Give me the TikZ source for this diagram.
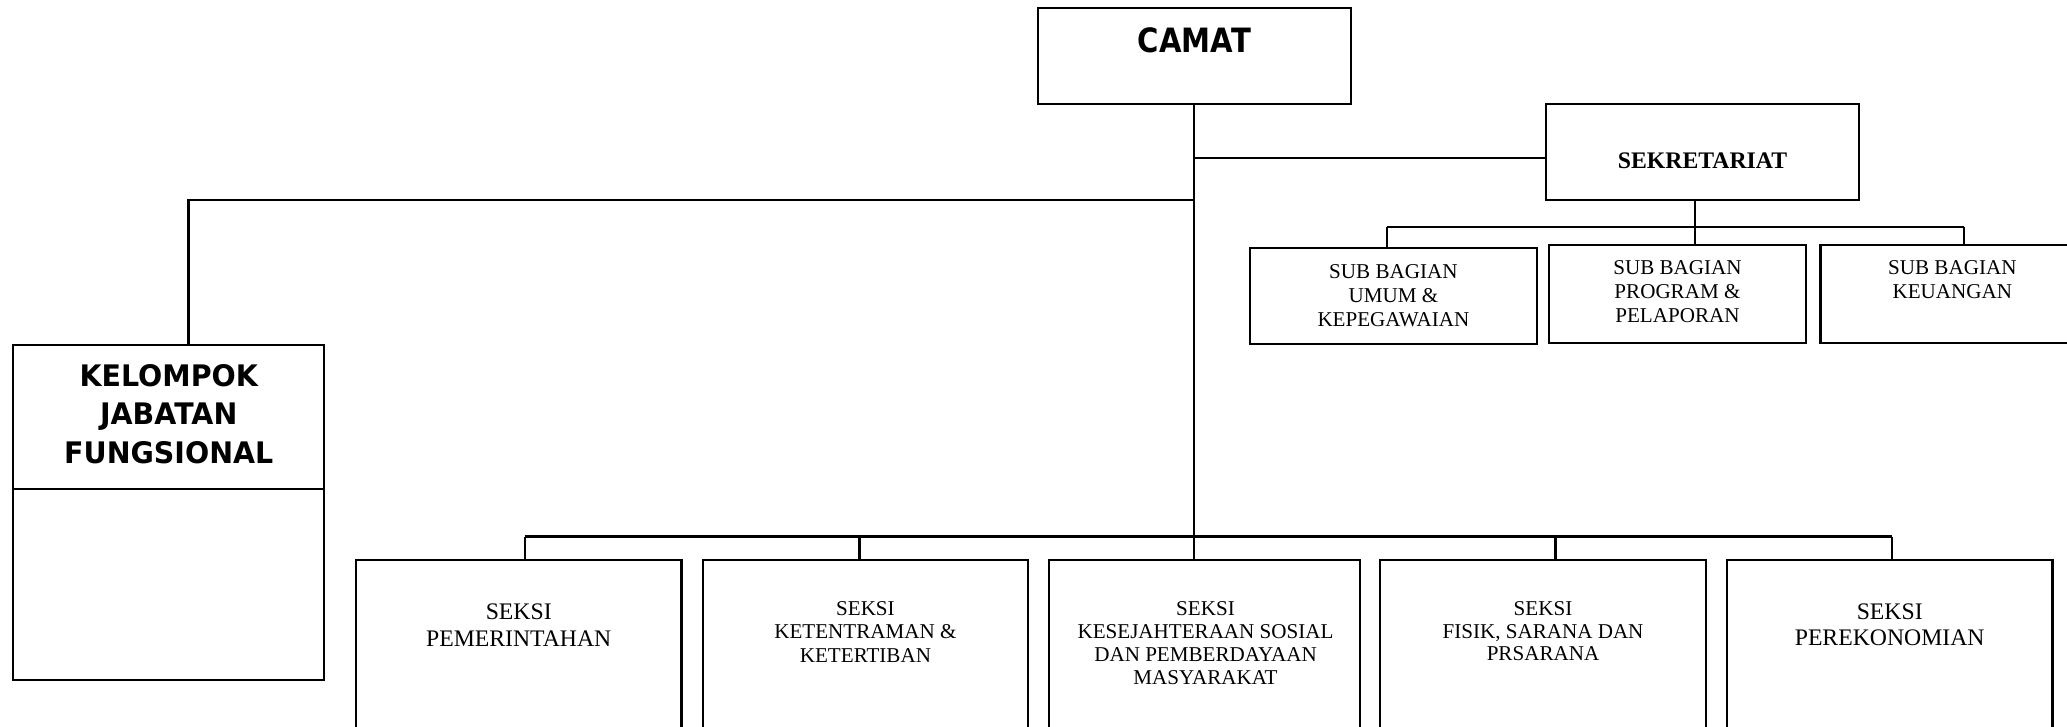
\documentclass[tikz,border=0pt]{standalone}
\usepackage{fontspec}
\setmainfont{Liberation Serif}
\newfontfamily\camatfont[FakeStretch=0.87]{DejaVu Sans}
\newfontfamily\kelfont[FakeStretch=0.96]{DejaVu Sans}
\newcommand{\mylines}[1]{\begin{tabular}[t]{@{}c@{}}#1\end{tabular}}
\begin{document}
\begin{tikzpicture}[x=0.5pt,y=-0.5pt,line width=0.8pt,
  box/.style 2 args={draw,rectangle,inner sep=0pt,outer sep=0pt,minimum width=#1*0.5pt,minimum height=#2*0.5pt},
  lbl/.style={anchor=base,inner sep=0pt,outer sep=0pt},
  small/.style={lbl,font=\fontsize{8}{9}\selectfont},
  mid/.style={lbl,font=\fontsize{9}{10.2}\selectfont}]
\useasboundingbox (0,0) rectangle (1568,551);
% boxes
\node[box={237}{73}] (camat) at (906,42.5) {};
\node[box={237}{73}] (sek) at (1291.5,115.5) {};
\node[box={236}{254}] (kel) at (128,389) {};
\node[box={218}{73}] (umum) at (1057,224.5) {};
\node[box={195}{74}] (prog) at (1272.5,223) {};
\node[box={199}{74}] (keu) at (1480.5,223) {};
\node[box={247}{140}] (s1) at (393.5,495) {};
\node[box={247}{140}] (s2) at (656.5,495) {};
\node[box={236}{140}] (s3) at (914,495) {};
\node[box={247}{140}] (s4) at (1170.5,495) {};
\node[box={247}{140}] (s5) at (1433.5,495) {};
% texts
\node[lbl,font=\camatfont\bfseries\fontsize{12.7}{14}\selectfont] (tcamat) at (906,40) {CAMAT};
\node[lbl,font=\bfseries\fontsize{9}{10}\selectfont] (tsek) at (1291.5,128) {SEKRETARIAT};
\node[lbl,font=\kelfont\bfseries\fontsize{11.25}{14.6}\selectfont] (tkel) at (128,293) {\mylines{KELOMPOK\\JABATAN\\FUNGSIONAL}};
\node[small,font=\fontsize{8}{9.1}\selectfont] (tumum) at (1057,211) {\mylines{SUB BAGIAN\\UMUM \&\\KEPEGAWAIAN}};
\node[small] (tprog) at (1272.5,208.6) {\mylines{SUB BAGIAN\\PROGRAM \&\\PELAPORAN}};
\node[small] (tkeu) at (1481,208.6) {\mylines{SUB BAGIAN\\KEUANGAN}};
\node[mid] (ts1) at (393.5,469.8) {\mylines{SEKSI\\PEMERINTAHAN}};
\node[small,font=\fontsize{8}{8.9}\selectfont] (ts2) at (656.5,466.6) {\mylines{SEKSI\\KETENTRAMAN \&\\KETERTIBAN}};
\node[small,font=\fontsize{8}{8.65}\selectfont] (ts3) at (914.5,467) {\mylines{SEKSI\\KESEJAHTERAAN SOSIAL\\DAN PEMBERDAYAAN\\MASYARAKAT}};
\node[small,font=\fontsize{8}{8.6}\selectfont] (ts4) at (1170.5,467) {\mylines{SEKSI\\FISIK, SARANA DAN\\PRSARANA}};
\node[mid,font=\fontsize{9}{9.8}\selectfont] (ts5) at (1433.5,469.8) {\mylines{SEKSI\\PEREKONOMIAN}};
% helper coordinates
\coordinate (busB) at (0,407);
\coordinate (sj) at (1173,120);
\coordinate (kj) at (143,152);
\coordinate (kdiv) at (0,371);
\coordinate (sx) at (1286,152);
\coordinate (u1) at (1052,172);
\coordinate (u3) at (1490,172);
\coordinate (d1) at (398,407);
\coordinate (d2) at (652,407);
\coordinate (d4) at (1180,407);
\coordinate (d5) at (1435,407);
% connectors
\draw (camat.south) -- (camat.south |- busB);
\draw (camat.south |- sj) -- (sek.west |- sj);
\draw (camat.south |- kj) -- (kj) -- (kj |- kel.north);
\draw (kel.west |- kdiv) -- (kel.east |- kdiv);
\draw (sx) -- (sx |- prog.north);
\draw (u1) -- (u3);
\draw (u1) -- (u1 |- umum.north);
\draw (u3) -- (u3 |- keu.north);
\draw (d1) -- (d5);
\draw (d1) -- (d1 |- s1.north);
\draw (d2) -- (d2 |- s2.north);
\draw (camat.south |- busB) -- (camat.south |- s3.north);
\draw (d4) -- (d4 |- s4.north);
\draw (d5) -- (d5 |- s5.north);
\end{tikzpicture}
\end{document}
